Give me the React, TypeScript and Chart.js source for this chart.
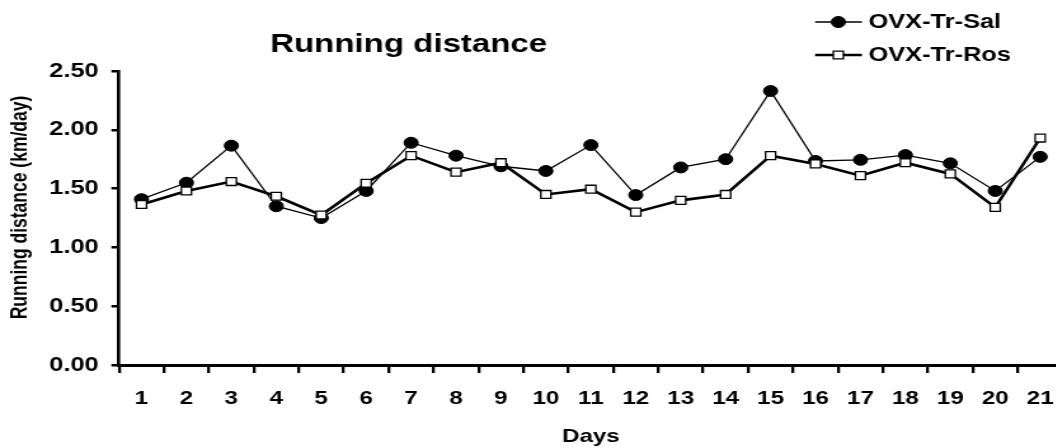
import React, { useEffect, useRef } from "react";
import { Chart, registerables } from "chart.js";

Chart.register(...registerables);

// Days of the protocol
const days = ["1", "2", "3", "4", "5", "6", "7", "8", "9", "10", "11", "12", "13", "14", "15", "16", "17", "18", "19", "20", "21"];

// Daily running distance (km/day)
const salValues = [1.41, 1.55, 1.865, 1.35, 1.25, 1.48, 1.89, 1.78, 1.69, 1.65, 1.87, 1.445, 1.68, 1.75, 2.33, 1.735, 1.745, 1.785, 1.715, 1.48, 1.77];
const rosValues = [1.365, 1.48, 1.56, 1.435, 1.275, 1.545, 1.78, 1.64, 1.72, 1.45, 1.495, 1.3, 1.4, 1.45, 1.78, 1.71, 1.61, 1.72, 1.625, 1.34, 1.93];

const yTicks = [0, 0.5, 1.0, 1.5, 2.0, 2.5];
const seriesNames = ["OVX-Tr-Sal", "OVX-Tr-Ros"];
const chartTitle = "Running distance";
const xTitle = "Days";
const yTitle = "Running distance (km/day)";

// The drawing is made on a narrower bitmap and widened horizontally by CSS.
const SX = 1.27;
const BW = 866;
const BH = 448;
const FONT = '"Liberation Sans", Arial, Helvetica, sans-serif';

const AREA_LEFT = 93.7;
const AREA_RIGHT = 836.6;
const AREA_TOP = 71;
const AREA_BOTTOM = 365;

const drawMarker = (ctx: CanvasRenderingContext2D, style: string, x: number, y: number) => {
  ctx.save();
  ctx.strokeStyle = "#000";
  if (style === "circle") {
    ctx.fillStyle = "#000";
    ctx.lineWidth = 1;
    ctx.beginPath();
    ctx.arc(x, y, 5.5, 0, Math.PI * 2);
    ctx.fill();
    ctx.stroke();
  } else {
    const h = 5.6 * Math.SQRT1_2;
    ctx.fillStyle = "#fff";
    ctx.lineWidth = 1.3;
    ctx.beginPath();
    ctx.rect(x - h, y - h, 2 * h, 2 * h);
    ctx.fill();
    ctx.stroke();
  }
  ctx.restore();
};

const textPlugin = {
  id: "chartTexts",
  afterDraw(chart: any) {
    const { ctx, chartArea } = chart;
    ctx.save();
    ctx.fillStyle = "#000";
    ctx.textAlign = "center";
    ctx.textBaseline = "alphabetic";

    // main title
    ctx.font = `bold 26px ${FONT}`;
    ctx.fillText(chartTitle, 321.7, 52);

    // x axis title
    ctx.font = `bold 19px ${FONT}`;
    ctx.fillText(xTitle, (chartArea.left + chartArea.right) / 2, 442);

    // y axis title
    ctx.save();
    ctx.translate(21.2, 207.5);
    ctx.rotate(-Math.PI / 2);
    ctx.font = `bold 17.5px ${FONT}`;
    ctx.fillText(yTitle, 0, 0);
    ctx.restore();

    // legend: line + marker + label
    const rows = [22, 55];
    const styles = ["circle", "rect"];
    const widths = [1.3, 2.5];
    seriesNames.forEach((name, i) => {
      const y = rows[i];
      ctx.strokeStyle = "#000";
      ctx.lineWidth = widths[i];
      ctx.beginPath();
      ctx.moveTo(641.7, y);
      ctx.lineTo(678.5, y);
      ctx.stroke();
      drawMarker(ctx, styles[i], 660, y);
      ctx.font = `bold 20px ${FONT}`;
      ctx.textAlign = "left";
      ctx.textBaseline = "middle";
      ctx.fillText(name, 683.7, y);
    });
    ctx.restore();
  },
};

export default function App() {
  const canvasRef = useRef<HTMLCanvasElement | null>(null);

  useEffect(() => {
    const canvas = canvasRef.current;
    if (!canvas) return;
    const chart = new Chart(canvas, {
      type: "line",
      data: {
        labels: days,
        datasets: [
          {
            label: seriesNames[0],
            data: salValues,
            borderColor: "#000",
            borderWidth: 1.3,
            pointStyle: "circle",
            pointRadius: 5.5,
            pointBackgroundColor: "#000",
            pointBorderColor: "#000",
            pointBorderWidth: 1,
            tension: 0,
            order: 1,
          },
          {
            label: seriesNames[1],
            data: rosValues,
            borderColor: "#000",
            borderWidth: 2.6,
            pointStyle: "rect",
            pointRadius: 5.6,
            pointBackgroundColor: "#fff",
            pointBorderColor: "#000",
            pointBorderWidth: 1.3,
            tension: 0,
            order: 0,
          },
        ],
      },
      options: {
        responsive: false,
        animation: false,
        devicePixelRatio: 1,
        layout: {
          padding: { top: AREA_TOP, left: 0, right: BW - AREA_RIGHT, bottom: 0 },
        },
        plugins: {
          legend: { display: false },
          tooltip: { enabled: false },
          title: { display: false },
        },
        scales: {
          x: {
            type: "category",
            offset: true,
            grid: {
              offset: true,
              drawOnChartArea: false,
              drawTicks: true,
              tickLength: 8,
              lineWidth: 2.3,
              color: "#000",
            },
            border: { display: true, width: 3, color: "#000" },
            ticks: {
              color: "#000",
              font: { family: FONT, size: 19, weight: "bold" },
              padding: 14,
              maxRotation: 0,
              autoSkip: false,
            },
            afterFit(scale: any) {
              scale.height = BH - AREA_BOTTOM;
            },
          },
          y: {
            min: 0,
            max: 2.5,
            grid: {
              drawOnChartArea: false,
              drawTicks: true,
              tickLength: 6,
              lineWidth: 2.5,
              color: "#000",
            },
            border: { display: true, width: 2.6, color: "#000" },
            ticks: {
              color: "#000",
              font: { family: FONT, size: 20, weight: "bold" },
              padding: 10,
              callback: (v: any) => Number(v).toFixed(2),
            },
            afterBuildTicks(scale: any) {
              scale.ticks = yTicks.map((value) => ({ value }));
            },
            afterFit(scale: any) {
              scale.width = AREA_LEFT;
            },
          },
        },
      },
      plugins: [textPlugin],
    });
    return () => chart.destroy();
  }, []);

  return (
    <div
      style={{
        position: "fixed",
        left: 0,
        top: 0,
        width: 1056,
        height: 448,
        overflow: "hidden",
        background: "#fff",
      }}
    >
      <canvas
        ref={canvasRef}
        width={BW}
        height={BH}
        style={{ display: "block", width: `${BW * SX}px`, height: `${BH}px` }}
      />
    </div>
  );
}
